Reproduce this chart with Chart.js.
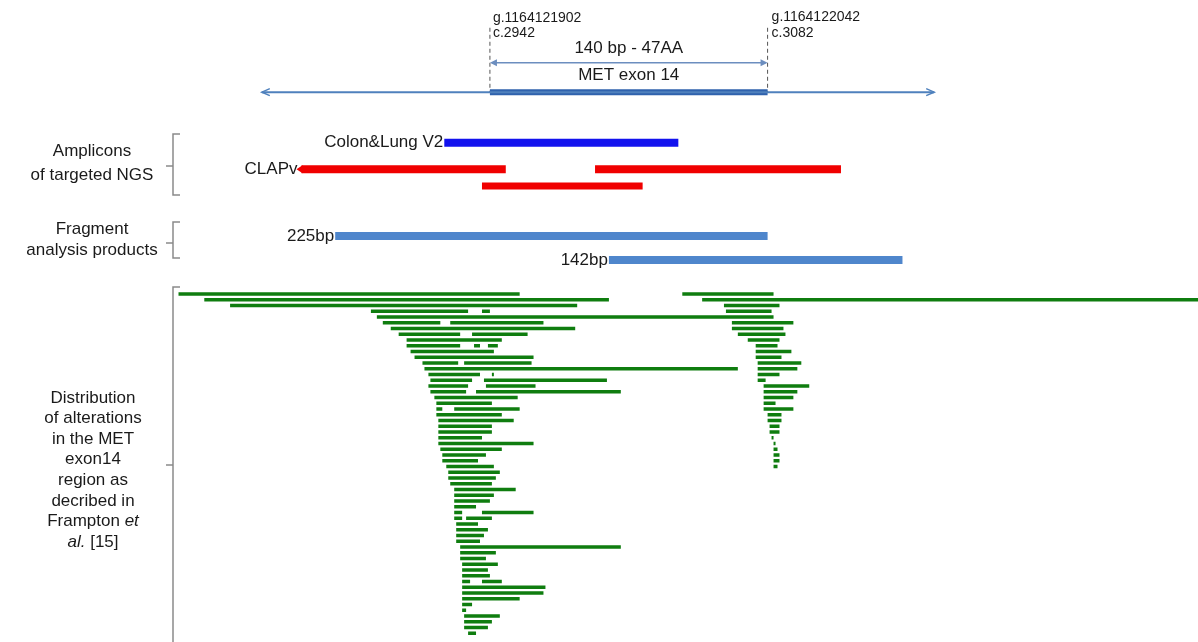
<!DOCTYPE html>
<html>
<head>
<meta charset="utf-8">
<script src="https://cdn.jsdelivr.net/npm/chart.js@4.4.0/dist/chart.umd.min.js"></script>
<style>
html, body { margin: 0; padding: 0; background: #fff; }
#wrap { width: 1198px; height: 642px; }
</style>
</head>
<body>
<div id="wrap"><canvas id="met" width="1198" height="642"></canvas></div>
<script>
// x axis = cDNA position (c.), MET exon 14 region

// gene and exon
var gene = [2827, 3166];
var exon = [2942, 3082];
var exonLabels = ["g.1164121902", "c.2942", "g.1164122042", "c.3082"];
var exonTitle = ["140 bp - 47AA", "MET exon 14"];

// amplicons of targeted NGS
var colonLung = [[2919, 3037]];
var clapv = [[2847, 2950], [2995, 3119]];
var clapv2 = [[2938, 3019]];

// fragment analysis products
var fragNames = ["225bp", "142bp"];
var fragments = [[2864, 3082], [3002, 3150]];

// alterations from Frampton et al., one row each, segments [start, end]
var alterations = [
  [[2785, 2957], [3039, 3085]],
  [[2798, 3002], [3049, 3299]],
  [[2811, 2986], [3060, 3088]],
  [[2882, 2931], [2938, 2942], [3061, 3084]],
  [[2885, 3085]],
  [[2888, 2917], [2922, 2969], [3064, 3095]],
  [[2892, 2985], [3064, 3090]],
  [[2896, 2927], [2933, 2961], [3067, 3091]],
  [[2900, 2948], [3072, 3088]],
  [[2900, 2927], [2934, 2937], [2941, 2946], [3076, 3087]],
  [[2902, 2944], [3076, 3094]],
  [[2904, 2964], [3076, 3089]],
  [[2908, 2926], [2929, 2963], [3077, 3099]],
  [[2909, 3067], [3077, 3097]],
  [[2911, 2937], [2943, 2944], [3077, 3088]],
  [[2912, 2933], [2939, 3001], [3077, 3081]],
  [[2911, 2931], [2940, 2965], [3080, 3103]],
  [[2912, 2930], [2935, 3008], [3080, 3097]],
  [[2914, 2956], [3080, 3095]],
  [[2915, 2943], [3080, 3086]],
  [[2915, 2918], [2924, 2957], [3080, 3095]],
  [[2915, 2948], [3082, 3089]],
  [[2916, 2954], [3082, 3089]],
  [[2916, 2943], [3083, 3088]],
  [[2916, 2943], [3083, 3088]],
  [[2916, 2938], [3084, 3085]],
  [[2916, 2964], [3085, 3086]],
  [[2917, 2948], [3085, 3087]],
  [[2918, 2940], [3085, 3088]],
  [[2918, 2936], [3085, 3088]],
  [[2920, 2944], [3085, 3087]],
  [[2921, 2947]],
  [[2921, 2945]],
  [[2922, 2943]],
  [[2924, 2955]],
  [[2924, 2944]],
  [[2924, 2942]],
  [[2924, 2935]],
  [[2924, 2928], [2938, 2964]],
  [[2924, 2928], [2930, 2943]],
  [[2925, 2936]],
  [[2925, 2941]],
  [[2925, 2939]],
  [[2925, 2937]],
  [[2927, 3008]],
  [[2927, 2945]],
  [[2927, 2940]],
  [[2928, 2946]],
  [[2928, 2941]],
  [[2928, 2942]],
  [[2928, 2932], [2938, 2948]],
  [[2928, 2970]],
  [[2928, 2969]],
  [[2928, 2957]],
  [[2928, 2933]],
  [[2928, 2930]],
  [[2929, 2947]],
  [[2929, 2943]],
  [[2929, 2941]],
  [[2931, 2935]]
];

// lanes (y), alteration rows are 0..59
var lane = { dashTop: -46.3, dim: -40.2, gene: -35.1, colon: -26.3, clap1: -21.7, clap2: -18.8, frag1: -10.1, frag2: -5.9 };

// turn [start,end] segments into line points, null breaks the line
function segPoints(segs, y) {
  var pts = [];
  segs.forEach(function (s) {
    pts.push({ x: s[0], y: y }, { x: s[1], y: y }, { x: s[1], y: null });
  });
  return pts;
}

function lineSet(data, color, width, extra) {
  var ds = {
    data: data,
    showLine: true,
    borderColor: color,
    borderWidth: width,
    borderCapStyle: 'butt',
    pointRadius: 0,
    spanGaps: false
  };
  for (var k in extra) ds[k] = extra[k];
  return ds;
}

var altPoints = [];
alterations.forEach(function (row, i) {
  altPoints = altPoints.concat(segPoints(row, i));
});

var fragPoints = segPoints([fragments[0]], lane.frag1).concat(segPoints([fragments[1]], lane.frag2));

var dashPoints = [
  { x: exon[0], y: lane.dashTop }, { x: exon[0], y: lane.gene }, { x: exon[0], y: null },
  { x: exon[1], y: lane.dashTop }, { x: exon[1], y: lane.gene }
];

var textColor = '#1a1a1a';
var font = 'Liberation Sans, Arial, sans-serif';
var fs = 17;

// labels, arrow heads and brackets
var annotations = {
  id: 'annotations',
  afterDraw: function (chart) {
    var ctx = chart.ctx;
    var xs = chart.scales.x, ys = chart.scales.y;
    var X = function (v) { return xs.getPixelForValue(v); };
    var Y = function (v) { return ys.getPixelForValue(v); };
    ctx.save();
    ctx.textBaseline = 'middle';
    ctx.fillStyle = textColor;

    function text(str, x, y, size, align) {
      ctx.font = size + 'px ' + font;
      ctx.textAlign = align || 'center';
      ctx.fillText(str, x, y);
    }

    // exon labels
    text(exonLabels[0], X(exon[0]) + 3, 18, 14, 'left');
    text(exonLabels[1], X(exon[0]) + 3, 33, 14, 'left');
    text(exonLabels[2], X(exon[1]) + 4, 17, 14, 'left');
    text(exonLabels[3], X(exon[1]) + 4, 33, 14, 'left');
    var mid = (X(exon[0]) + X(exon[1])) / 2;
    text(exonTitle[0], mid, 48, 17);
    text(exonTitle[1], mid, 75, 17);

    // arrow heads on the dimension line
    ctx.fillStyle = '#6c8ebf';
    var yd = Y(lane.dim);
    ctx.beginPath();
    ctx.moveTo(X(exon[0]), yd); ctx.lineTo(X(exon[0]) + 7, yd - 3.5); ctx.lineTo(X(exon[0]) + 7, yd + 3.5); ctx.fill();
    ctx.beginPath();
    ctx.moveTo(X(exon[1]), yd); ctx.lineTo(X(exon[1]) - 7, yd - 3.5); ctx.lineTo(X(exon[1]) - 7, yd + 3.5); ctx.fill();

    // open arrow heads on the gene line
    ctx.strokeStyle = '#4f81bd';
    ctx.lineWidth = 1.5;
    var yg = Y(lane.gene);
    ctx.beginPath();
    ctx.moveTo(X(gene[0]) + 8, yg - 3.5); ctx.lineTo(X(gene[0]), yg); ctx.lineTo(X(gene[0]) + 8, yg + 3.5);
    ctx.moveTo(X(gene[1]) - 8, yg - 3.5); ctx.lineTo(X(gene[1]), yg); ctx.lineTo(X(gene[1]) - 8, yg + 3.5);
    ctx.stroke();

    // CLAPv arrow end
    ctx.fillStyle = '#f00000';
    var yc = Y(lane.clap1);
    ctx.beginPath();
    ctx.moveTo(X(clapv[0][0]) - 5, yc); ctx.lineTo(X(clapv[0][0]) + 1, yc - 4); ctx.lineTo(X(clapv[0][0]) + 1, yc + 4); ctx.fill();

    // track labels
    ctx.fillStyle = textColor;
    text('Colon&Lung V2', X(colonLung[0][0]) - 1, Y(lane.colon), fs, 'right');
    text('CLAPv', X(clapv[0][0]) - 4, yc, fs, 'right');
    text(fragNames[0], X(fragments[0][0]) - 1, Y(lane.frag1), fs, 'right');
    text(fragNames[1], X(fragments[1][0]) - 1, Y(lane.frag2), fs, 'right');

    // left labels
    text('Amplicons', 92, 151, fs);
    text('of targeted NGS', 92, 175, fs);
    text('Fragment', 92, 229, fs);
    text('analysis products', 92, 250, fs);
    var dist = ['Distribution', 'of alterations', 'in the MET', 'exon14', 'region as', 'decribed in'];
    dist.forEach(function (s, i) { text(s, 93, 398 + i * 20.6, fs); });
    // italic parts
    ctx.font = fs + 'px ' + font;
    var w1 = ctx.measureText('Frampton ').width;
    ctx.font = 'italic ' + fs + 'px ' + font;
    var w2 = ctx.measureText('et').width;
    var x0 = 93 - (w1 + w2) / 2;
    ctx.textAlign = 'left';
    ctx.font = fs + 'px ' + font; ctx.fillText('Frampton ', x0, 521.6);
    ctx.font = 'italic ' + fs + 'px ' + font; ctx.fillText('et', x0 + w1, 521.6);
    var w3 = ctx.measureText('al.').width;
    ctx.font = fs + 'px ' + font;
    var w4 = ctx.measureText(' [15]').width;
    x0 = 93 - (w3 + w4) / 2;
    ctx.font = 'italic ' + fs + 'px ' + font; ctx.fillText('al.', x0, 542.2);
    ctx.font = fs + 'px ' + font; ctx.fillText(' [15]', x0 + w3, 542.2);

    // brackets
    ctx.strokeStyle = '#8a8a8a';
    ctx.lineWidth = 1.5;
    function bracket(top, bottom, tip) {
      ctx.beginPath();
      ctx.moveTo(180, top); ctx.lineTo(173, top); ctx.lineTo(173, bottom); ctx.lineTo(180, bottom);
      ctx.moveTo(173, tip); ctx.lineTo(166, tip);
      ctx.stroke();
    }
    bracket(134, 195, 166);
    bracket(222, 258, 243);
    bracket(287, 660, 465);
    ctx.restore();
  }
};

new Chart(document.getElementById('met').getContext('2d'), {
  type: 'scatter',
  data: {
    datasets: [
      lineSet([{ x: gene[0], y: lane.gene }, { x: gene[1], y: lane.gene }], '#4f81bd', 2),
      lineSet([{ x: exon[0], y: lane.gene }, { x: exon[1], y: lane.gene }], '#2f62ad', 6),
      lineSet(dashPoints, '#555555', 1, { borderDash: [4, 3] }),
      lineSet([{ x: exon[0] + 1, y: lane.dim }, { x: exon[1] - 1, y: lane.dim }], '#6c8ebf', 1.5),
      lineSet(segPoints(colonLung, lane.colon), '#1212ee', 8),
      lineSet(segPoints(clapv, lane.clap1), '#f00000', 8),
      lineSet(segPoints(clapv2, lane.clap2), '#f00000', 7),
      lineSet(fragPoints, '#4f86cc', 8),
      lineSet(altPoints, '#0f7d0f', 3.4)
    ]
  },
  options: {
    responsive: false,
    animation: false,
    layout: { padding: 0 },
    scales: {
      x: { type: 'linear', min: 2695, max: 3299, display: false },
      y: { type: 'linear', min: -51.13, max: 60.52, reverse: true, display: false }
    },
    plugins: {
      legend: { display: false },
      tooltip: { enabled: false }
    }
  },
  plugins: [annotations]
});
</script>
</body>
</html>
